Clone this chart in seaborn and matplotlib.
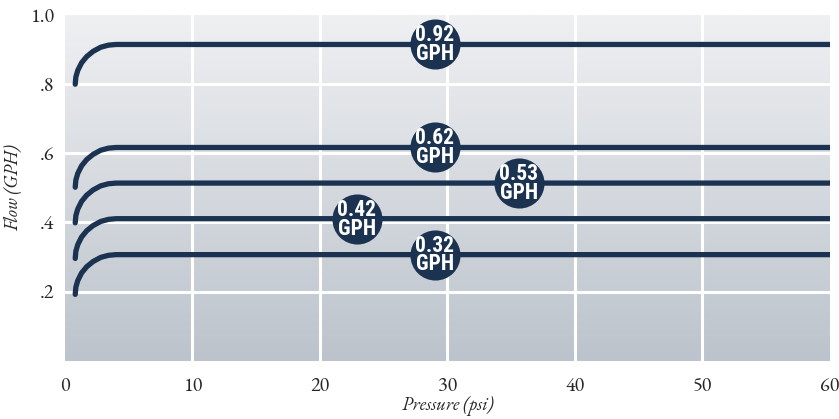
import numpy as np
import pandas as pd
import matplotlib
matplotlib.use("Agg")
import matplotlib.pyplot as plt
import seaborn as sns

# flow levels (GPH) and where each curve starts on the left
labels = ["0.92", "0.62", "0.53", "0.42", "0.32"]
flow = [0.915, 0.617, 0.514, 0.411, 0.307]
label_x = [29.0, 29.0, 35.6, 22.9, 29.0]

# shape of the rising knee (pressure, drop below level)
knee_x = [0.8, 0.85, 1.0, 1.3, 1.7, 2.2, 2.8, 3.4, 4.0, 60.0]
knee_drop = [0.115, 0.094, 0.075, 0.053, 0.035, 0.020, 0.008, 0.002, 0.0, 0.0]

rows = []
for lab, f in zip(labels, flow):
    for x, d in zip(knee_x, knee_drop):
        rows.append({"psi": x, "gph": f - d, "nozzle": lab})
df = pd.DataFrame(rows)

navy = "#1b3350"
sns.set_style("white")
plt.rcParams["font.family"] = ["EB Garamond", "Liberation Serif", "DejaVu Serif"]
badge_font = ["Roboto Condensed", "IBM Plex Sans Condensed", "DejaVu Sans"]

fig = plt.figure(figsize=(8.39, 4.19), dpi=100)
ax = fig.add_axes([0.0775, 0.139, 0.9115, 0.825])

# gradient background
grad = np.linspace(0, 1, 256).reshape(-1, 1)
cmap = matplotlib.colors.LinearSegmentedColormap.from_list("bg", ["#bcc3cc", "#eff0f2"])
ax.imshow(grad, aspect="auto", cmap=cmap, origin="lower",
          extent=[0, 1, 0, 1], transform=ax.transAxes, zorder=0)

for v in [10, 20, 30, 40, 50]:
    ax.axvline(v, color="white", lw=2.2, zorder=1)
for v in [0.2, 0.4, 0.6, 0.8]:
    ax.axhline(v, color="white", lw=2.2, zorder=1)

sns.lineplot(data=df, x="psi", y="gph", units="nozzle", estimator=None,
             color=navy, lw=3.8, ax=ax, zorder=3, solid_capstyle="round")

ax.scatter(label_x, flow, s=1300, color=navy, zorder=4, linewidths=0)
for lab, x, f in zip(labels, label_x, flow):
    ax.text(x, f - 0.001, lab + "\nGPH", ha="center", va="center", color="white",
            fontsize=15.5, fontweight="bold", family=badge_font,
            linespacing=0.82, zorder=5)

ax.set_xlim(0, 60)
ax.set_ylim(0, 1.0)
ax.set_xticks([0, 10, 20, 30, 40, 50, 60])
ax.set_yticks([0.2, 0.4, 0.6, 0.8, 1.0])
ax.set_yticklabels([".2", ".4", ".6", ".8", "1.0"])
ax.tick_params(length=0, labelsize=14.5, pad=8)
ax.tick_params(axis="x", pad=12)
for s in ax.spines.values():
    s.set_visible(False)
ax.set_xlabel("Pressure (psi)", fontstyle="italic", fontsize=13.5, labelpad=0)
ax.set_ylabel("Flow (GPH)", fontstyle="italic", fontsize=13.5, labelpad=4)
ax.grid(False)

fig.savefig("out.png", dpi=100)
